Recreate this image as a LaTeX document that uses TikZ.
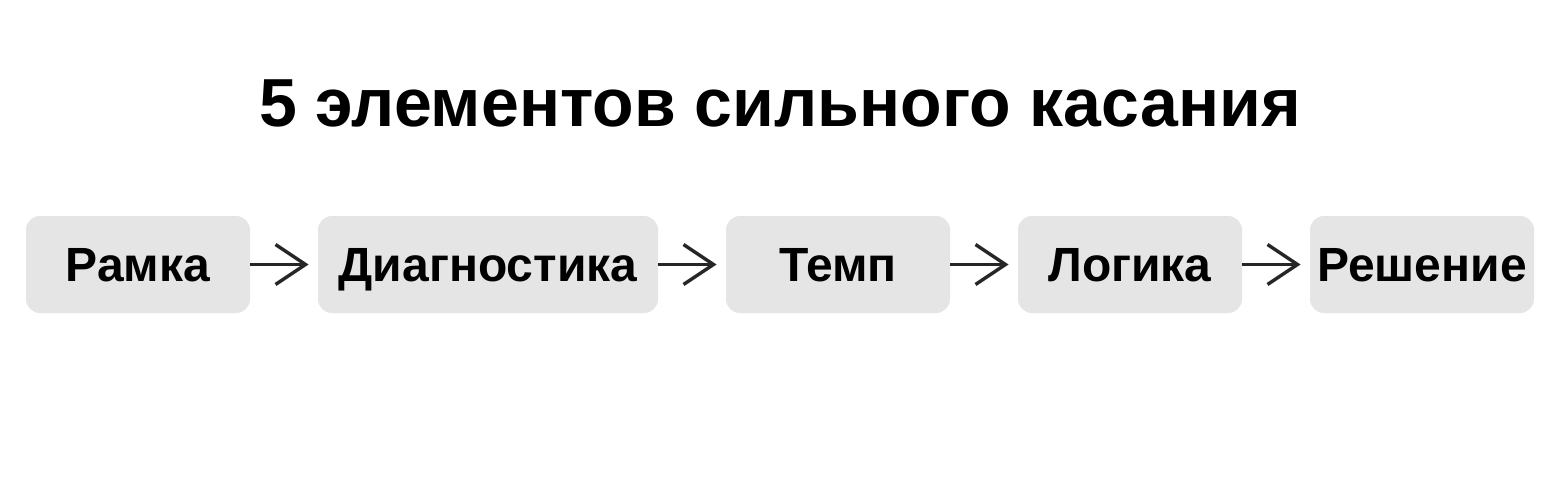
\documentclass[tikz,border=0pt]{standalone}
\usepackage{fontspec}
\setmainfont{Liberation Sans}
\usetikzlibrary{positioning,arrows.meta}
\tikzset{
  st/.style={rectangle, rounded corners=7pt, minimum width=112pt, minimum height=48.5pt, text height=17.2pt, text depth=0pt, text centered, fill=black!10, font=\bfseries\fontsize{24}{28}\selectfont},
  ar/.style={-{Straight Barb[length=15pt,width=20pt]}, line width=1.7pt, black!85, shorten >=4.5pt},
  node distance=33.6pt
}
\begin{document}
\begin{tikzpicture}[x=0.5pt,y=-0.5pt]
	\useasboundingbox[fill=white] (0,0) rectangle (1560,487);
	\node[font=\bfseries\fontsize{34}{40}\selectfont] (title) at (780,103) {5 элементов сильного касания};
	\node[st] (ramka) at (138,264.5) {Рамка};
	\node[st, minimum width=170pt, right=of ramka] (diag) {Диагностика};
	\node[st, right=of diag] (temp) {Темп};
	\node[st, right=of temp] (logic) {Логика};
	\node[st, right=of logic] (resh) {Решение};
	%
	\draw[ar] (ramka) -- (diag);
	\draw[ar] (diag) -- (temp);
	\draw[ar] (temp) -- (logic);
	\draw[ar] (logic) -- (resh);
\end{tikzpicture}
\end{document}
